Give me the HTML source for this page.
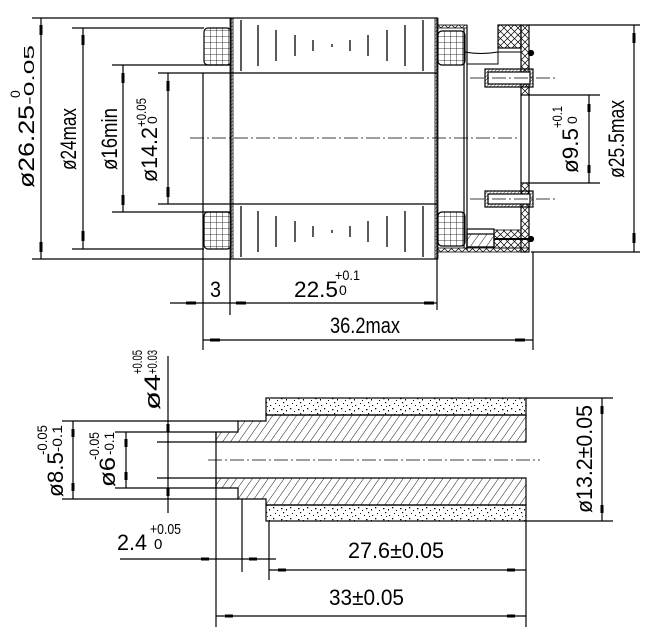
<!DOCTYPE html>
<html><head><meta charset="utf-8"><style>
html,body{margin:0;padding:0;background:#fff;}
svg{display:block;}
text{font-family:"Liberation Sans Narrow","Liberation Sans",sans-serif;fill:#000;}
</style></head><body>
<svg width="645" height="632" viewBox="0 0 645 632" xmlns="http://www.w3.org/2000/svg">
<defs>
<pattern id="grid" width="6" height="6" patternUnits="userSpaceOnUse"><path d="M0 0H6M0 0V6" stroke="#000" stroke-width="0.8" fill="none"/></pattern>
<pattern id="hatch" width="6.5" height="6.5" patternUnits="userSpaceOnUse" patternTransform="rotate(35)"><line x1="0" y1="0" x2="0" y2="6.5" stroke="#000" stroke-width="0.9"/></pattern>
<pattern id="fine" width="2.5" height="2.5" patternUnits="userSpaceOnUse" patternTransform="rotate(45)"><line x1="0" y1="0" x2="0" y2="2.5" stroke="#000" stroke-width="0.8"/></pattern>
<pattern id="xx" width="7" height="7" patternUnits="userSpaceOnUse"><path d="M0 0L7 7M7 0L0 7" stroke="#000" stroke-width="0.7"/></pattern>
<pattern id="sand" width="17" height="11" patternUnits="userSpaceOnUse"><g fill="#000"><rect x="1" y="1" width="1.3" height="1.3"/><rect x="5" y="4" width="1" height="1"/><rect x="9" y="2" width="1.5" height="1.2"/><rect x="3" y="7" width="1" height="1"/><rect x="11" y="6" width="1.2" height="1.2"/><rect x="7" y="9" width="1" height="1"/><rect x="14" y="3" width="1" height="1.5"/><rect x="15" y="9" width="1.2" height="1"/><rect x="12" y="10" width="1" height="0.8"/></g></pattern>
</defs>
<g stroke="#000" stroke-width="1.2" fill="none">
<rect x="231" y="18" width="206" height="241"/>
<line x1="231" y1="73" x2="437" y2="73"/>
<line x1="231" y1="204" x2="437" y2="204"/>
<rect x="230" y="18" width="3" height="241" fill="url(#fine)" stroke-width="0.8"/>
<rect x="435" y="18" width="3" height="241" fill="url(#fine)" stroke-width="0.8"/>
<g stroke-width="1.3">
<line x1="241" y1="20" x2="241" y2="71"/><line x1="258" y1="25" x2="258" y2="66"/><line x1="276" y1="30" x2="276" y2="61"/><line x1="295" y1="35" x2="295" y2="56"/><line x1="313" y1="40" x2="313" y2="51"/><line x1="332" y1="44" x2="332" y2="47"/><line x1="350" y1="40" x2="350" y2="51"/><line x1="368" y1="35" x2="368" y2="56"/><line x1="387" y1="30" x2="387" y2="61"/><line x1="405" y1="25" x2="405" y2="66"/><line x1="423" y1="20" x2="423" y2="71"/>
<line x1="241" y1="206" x2="241" y2="257"/><line x1="258" y1="211" x2="258" y2="252"/><line x1="276" y1="216" x2="276" y2="247"/><line x1="295" y1="221" x2="295" y2="242"/><line x1="313" y1="226" x2="313" y2="237"/><line x1="332" y1="230" x2="332" y2="233"/><line x1="350" y1="226" x2="350" y2="237"/><line x1="368" y1="221" x2="368" y2="242"/><line x1="387" y1="216" x2="387" y2="247"/><line x1="405" y1="211" x2="405" y2="252"/><line x1="423" y1="206" x2="423" y2="257"/>
</g>
<rect x="204" y="28" width="27" height="37" rx="4" fill="url(#grid)"/>
<rect x="204" y="212" width="27" height="37" rx="4" fill="url(#grid)"/>
<rect x="438" y="31" width="27" height="34" rx="4" fill="url(#grid)"/>
<rect x="438" y="212" width="27" height="34" rx="4" fill="url(#grid)"/>
<rect x="437" y="25" width="30" height="3" fill="url(#xx)" stroke-width="0.8"/>
<line x1="464" y1="28" x2="464" y2="248"/><line x1="467" y1="25" x2="467" y2="250"/>
<rect x="437" y="248" width="92" height="4" fill="url(#xx)" stroke-width="0.8"/>
<rect x="498" y="25" width="23" height="23" fill="url(#xx)"/>
<rect x="521" y="25" width="8" height="70" fill="url(#xx)"/>
<rect x="521" y="183" width="8" height="69" fill="url(#xx)"/>
<line x1="521" y1="95" x2="521" y2="183"/><line x1="529" y1="95" x2="529" y2="183"/>
<path d="M465 52 Q480 55 498 52 L521 52 M467 64 H498 V48" stroke-width="1"/>
<circle cx="531" cy="53" r="2.5" fill="#000"/>
<circle cx="531" cy="239" r="2.5" fill="#000"/>
<rect x="485" y="69" width="48" height="18" fill="url(#fine)"/>
<rect x="488" y="72" width="42" height="12" fill="#fff"/>
<rect x="485" y="191" width="48" height="16" fill="url(#fine)"/>
<rect x="488" y="194" width="42" height="10" fill="#fff"/>
<rect x="467" y="229" width="27" height="18"/>
<rect x="467" y="234" width="27" height="13" fill="url(#hatch)"/>
<rect x="494" y="230" width="27" height="18" fill="url(#xx)" stroke-width="0.8"/>
<line x1="494" y1="239" x2="531" y2="239" stroke-width="2"/>
<g stroke-width="0.8" stroke-dasharray="14,3,2,3">
<line x1="190" y1="138" x2="520" y2="138"/>
<line x1="470" y1="78" x2="555" y2="78"/>
<line x1="470" y1="199" x2="555" y2="199"/>
<line x1="208" y1="460" x2="540" y2="460"/>
</g>
<line x1="32" y1="18" x2="231" y2="18"/><line x1="32" y1="259" x2="231" y2="259"/>
<line x1="72" y1="28" x2="204" y2="28"/><line x1="72" y1="249" x2="204" y2="249"/>
<line x1="112" y1="65" x2="231" y2="65"/><line x1="112" y1="212" x2="231" y2="212"/>
<line x1="158" y1="73" x2="231" y2="73"/><line x1="158" y1="204" x2="231" y2="204"/>
<line x1="41" y1="18" x2="41" y2="259"/>
<line x1="83" y1="28" x2="83" y2="249"/>
<line x1="123" y1="65" x2="123" y2="212"/>
<line x1="168" y1="73" x2="168" y2="204"/>
<line x1="529" y1="25" x2="640" y2="25"/><line x1="531" y1="252" x2="640" y2="252"/>
<line x1="529" y1="95" x2="600" y2="95"/><line x1="529" y1="183" x2="600" y2="183"/>
<line x1="634" y1="25" x2="634" y2="252"/>
<line x1="589" y1="95" x2="589" y2="183"/>
<line x1="203" y1="73" x2="203" y2="350"/>
<line x1="230" y1="259" x2="230" y2="315"/>
<line x1="437" y1="259" x2="437" y2="310"/>
<line x1="533" y1="252" x2="533" y2="350"/>
<line x1="170" y1="303" x2="437" y2="303"/>
<line x1="203" y1="340" x2="533" y2="340"/>
<rect x="266" y="398" width="260" height="17" fill="url(#sand)"/>
<rect x="266" y="505" width="260" height="16" fill="url(#sand)"/>
<path d="M216 432 H238 V421 H266 V415 H526 V442 H216 Z" fill="url(#hatch)"/>
<path d="M216 488 H238 V499 H266 V505 H526 V478 H216 Z" fill="url(#hatch)"/>
<line x1="62" y1="421" x2="238" y2="421"/>
<line x1="62" y1="499" x2="238" y2="499"/>
<line x1="115" y1="432" x2="216" y2="432"/>
<line x1="115" y1="488" x2="216" y2="488"/>
<line x1="157" y1="442" x2="216" y2="442"/>
<line x1="157" y1="478" x2="216" y2="478"/>
<line x1="216" y1="432" x2="216" y2="627"/>
<line x1="242" y1="499" x2="242" y2="572"/>
<line x1="269" y1="521" x2="269" y2="580"/>
<line x1="526" y1="521" x2="526" y2="627"/>
<line x1="526" y1="398" x2="613" y2="398"/>
<line x1="526" y1="521" x2="613" y2="521"/>
<line x1="602" y1="398" x2="602" y2="521"/>
<line x1="73" y1="421" x2="73" y2="499"/>
<line x1="126" y1="432" x2="126" y2="488"/>
<line x1="168" y1="356" x2="168" y2="513"/>
<line x1="120" y1="559" x2="276" y2="559"/>
<line x1="269" y1="570" x2="526" y2="570"/>
<line x1="216" y1="616" x2="526" y2="616"/>
</g>
<g stroke="#000" stroke-width="3">
<line x1="41" y1="25" x2="41" y2="35"/><line x1="41" y1="242" x2="41" y2="252"/>
<line x1="83" y1="35" x2="83" y2="45"/><line x1="83" y1="231" x2="83" y2="241"/>
<line x1="123" y1="73" x2="123" y2="83"/><line x1="123" y1="195" x2="123" y2="205"/>
<line x1="168" y1="81" x2="168" y2="91"/><line x1="168" y1="187" x2="168" y2="197"/>
<line x1="634" y1="33" x2="634" y2="43"/><line x1="634" y1="233" x2="634" y2="243"/>
<line x1="589" y1="104" x2="589" y2="112"/><line x1="589" y1="165" x2="589" y2="173"/>
<line x1="186" y1="303" x2="196" y2="303"/><line x1="236" y1="303" x2="246" y2="303"/>
<line x1="424" y1="303" x2="434" y2="303"/>
<line x1="210" y1="340" x2="220" y2="340"/><line x1="515" y1="340" x2="525" y2="340"/>
<line x1="73" y1="429" x2="73" y2="437"/><line x1="73" y1="483" x2="73" y2="491"/>
<line x1="126" y1="439" x2="126" y2="447"/><line x1="126" y1="472" x2="126" y2="480"/>
<line x1="168" y1="424" x2="168" y2="432"/><line x1="168" y1="488" x2="168" y2="496"/>
<line x1="602" y1="406" x2="602" y2="414"/><line x1="602" y1="505" x2="602" y2="513"/>
<line x1="201" y1="559" x2="209" y2="559"/><line x1="249" y1="559" x2="257" y2="559"/>
<line x1="278" y1="570" x2="286" y2="570"/><line x1="507" y1="570" x2="515" y2="570"/>
<line x1="225" y1="616" x2="233" y2="616"/><line x1="507" y1="616" x2="515" y2="616"/>
</g>
<g font-size="22" lengthAdjust="spacingAndGlyphs">
<text transform="translate(34,188) rotate(-90)" textLength="83" lengthAdjust="spacingAndGlyphs">ø26.25</text>
<text transform="translate(34,105) rotate(-90)" textLength="60" lengthAdjust="spacingAndGlyphs" font-size="15">-0.05</text>
<text transform="translate(20,98) rotate(-90)" font-size="14">0</text>
<text transform="translate(76,170) rotate(-90)" textLength="62" lengthAdjust="spacingAndGlyphs">ø24max</text>
<text transform="translate(117,170) rotate(-90)" textLength="62" lengthAdjust="spacingAndGlyphs">ø16min</text>
<text transform="translate(157,182) rotate(-90)" textLength="55" lengthAdjust="spacingAndGlyphs">ø14.2</text>
<text transform="translate(146,127) rotate(-90)" textLength="29" lengthAdjust="spacingAndGlyphs" font-size="14">+0.05</text>
<text transform="translate(157,124) rotate(-90)" font-size="14">0</text>
<text transform="translate(578,173) rotate(-90)" textLength="45" lengthAdjust="spacingAndGlyphs">ø9.5</text>
<text transform="translate(562,128) rotate(-90)" textLength="22" lengthAdjust="spacingAndGlyphs" font-size="14">+0.1</text>
<text transform="translate(577,124) rotate(-90)" font-size="14">0</text>
<text transform="translate(624,178) rotate(-90)" textLength="78" lengthAdjust="spacingAndGlyphs">ø25.5max</text>
<text x="210" y="297" textLength="11" lengthAdjust="spacingAndGlyphs">3</text>
<text x="294" y="297" textLength="44" lengthAdjust="spacingAndGlyphs">22.5</text>
<text x="335" y="280" textLength="25" lengthAdjust="spacingAndGlyphs" font-size="14">+0.1</text>
<text x="339" y="295" font-size="14">0</text>
<text x="330" y="333" textLength="70" lengthAdjust="spacingAndGlyphs">36.2max</text>
<text transform="translate(160,410) rotate(-90)" textLength="36" lengthAdjust="spacingAndGlyphs">ø4</text>
<text transform="translate(142,374) rotate(-90)" textLength="24" lengthAdjust="spacingAndGlyphs" font-size="14">+0.05</text>
<text transform="translate(157,374) rotate(-90)" textLength="24" lengthAdjust="spacingAndGlyphs" font-size="14">+0.03</text>
<text transform="translate(63,497) rotate(-90)" textLength="45" lengthAdjust="spacingAndGlyphs">ø8.5</text>
<text transform="translate(47,455) rotate(-90)" textLength="30" lengthAdjust="spacingAndGlyphs" font-size="14">-0.05</text>
<text transform="translate(62,452) rotate(-90)" textLength="27" lengthAdjust="spacingAndGlyphs" font-size="14">-0.1</text>
<text transform="translate(115,487) rotate(-90)" textLength="30" lengthAdjust="spacingAndGlyphs">ø6</text>
<text transform="translate(99,460) rotate(-90)" textLength="28" lengthAdjust="spacingAndGlyphs" font-size="14">-0.05</text>
<text transform="translate(114,455) rotate(-90)" textLength="23" lengthAdjust="spacingAndGlyphs" font-size="14">-0.1</text>
<text transform="translate(592,513) rotate(-90)" textLength="108" lengthAdjust="spacingAndGlyphs">ø13.2±0.05</text>
<text x="117" y="550" textLength="30" lengthAdjust="spacingAndGlyphs">2.4</text>
<text x="150" y="534" textLength="31" lengthAdjust="spacingAndGlyphs" font-size="15">+0.05</text>
<text x="154" y="549" font-size="15">0</text>
<text x="348" y="558" textLength="96" lengthAdjust="spacingAndGlyphs">27.6±0.05</text>
<text x="329" y="605" textLength="75" lengthAdjust="spacingAndGlyphs">33±0.05</text>
</g>
</svg>
</body></html>
